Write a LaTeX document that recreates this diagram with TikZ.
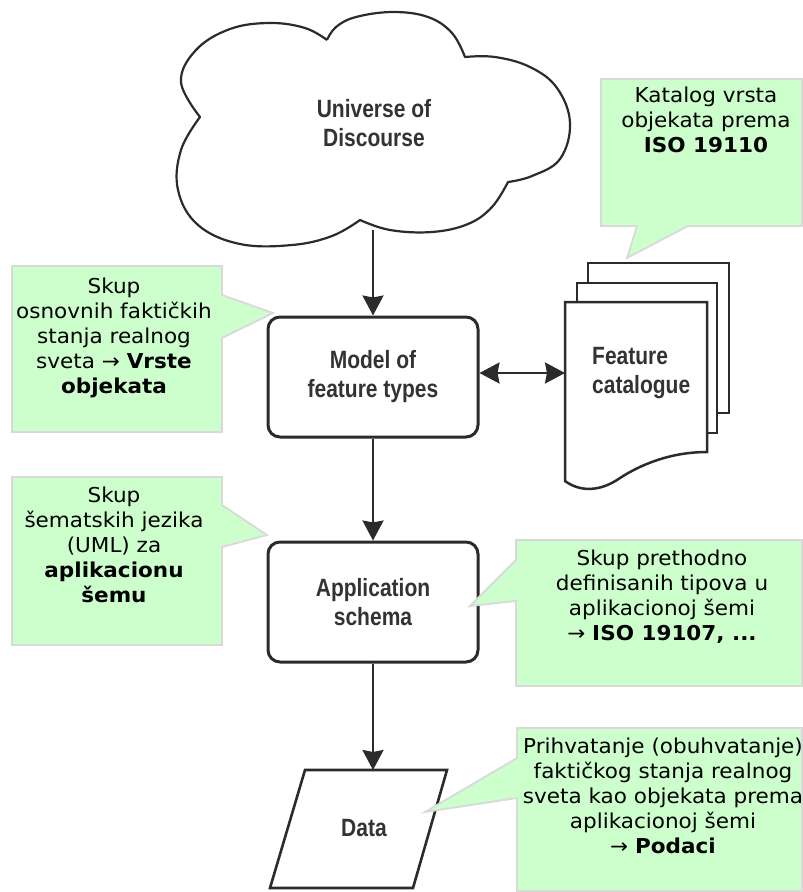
\documentclass[tikz,border=0pt]{standalone}
\usepackage{fontspec}
\setmainfont{DejaVu Sans}
\newfontfamily\notefont[FakeStretch=1.05]{DejaVu Sans}
\newfontfamily\chartfont[FakeStretch=0.84,BoldFont={Liberation Sans Bold}]{Liberation Sans}
\usetikzlibrary{arrows.meta}
\definecolor{notegreen}{HTML}{CCFFCC}
\definecolor{noteborder}{HTML}{D9D9D9}
\definecolor{ink}{HTML}{2B2B2B}
\definecolor{textink}{HTML}{333333}
\tikzset{
  conn/.style={line width=2.4pt, draw=ink},
  arr/.style={conn, -{Stealth[length=20pt,width=21pt,inset=2pt]}},
  darr/.style={conn, {Stealth[length=20pt,width=21pt,inset=2pt]}-{Stealth[length=20pt,width=21pt,inset=2pt]}},
  charttext/.style={font=\chartfont\bfseries\fontsize{25}{29}\selectfont, text=textink, align=center, inner sep=0pt},
  procbox/.style={charttext, draw=ink, line width=3pt, rounded corners=12pt, fill=white,
                  minimum width=210pt, minimum height=120pt},
  cloudline/.style={draw=ink, line width=2.2pt, line join=round},
  page/.style={draw=ink, line width=2.5pt, fill=white},
  note/.style={fill=notegreen, draw=noteborder, line width=1.8pt},
  notetext/.style={font=\notefont\fontsize{20.5}{25}\selectfont, align=center, inner sep=0pt, anchor=north, text=black},
}
\begin{document}
\begin{tikzpicture}[x=1pt,y=-1pt]
\useasboundingbox (0,0) rectangle (803,892);

% cloud
\draw[cloudline]
  plot[smooth,tension=0.65] coordinates {(327,40) (305,28) (270,23) (230,29) (196,50) (181,82) (200,117)}
  -- plot[smooth,tension=0.65] coordinates {(200,117) (181,150) (178,190) (198,225) (240,244) (292,245) (332,236) (360,220)}
  -- plot[smooth,tension=0.65] coordinates {(360,220) (390,230) (432,232) (468,224) (492,207) (508,182)}
  -- plot[smooth,tension=0.65] coordinates {(508,182) (532,176) (560,159) (570,123) (557,88) (530,67) (495,57) (465,57)}
  -- plot[smooth,tension=0.65] coordinates {(465,57) (452,33) (428,17) (393,12) (356,17) (336,27) (327,40)};
\node[charttext] (uod) at (374,123.5) {Universe of\\Discourse};
\coordinate (cloudbot) at (374,230);

% flow boxes
\node[procbox] (model) at (373,377) {Model of\\feature types};
\node[procbox] (app) at (373,602) {Application\\schema};
\draw[page, line width=2.6pt] (305,770) -- (447,770) -- (413,888) -- (270,888) -- cycle;
\node[charttext] (data) at (364,828) {Data};
\coordinate (datatop) at (375,770);

% feature catalogue
\draw[page] (588,263) rectangle (729,413);
\draw[page] (577,283) rectangle (717,433);
\draw[page] (565,302) -- (707,302) -- (707,452)
  .. controls (670,452) and (640,465) .. (620,478)
  .. controls (600,492) and (580,492) .. (565,481) -- cycle;
\node[charttext, anchor=north west, align=left] (fc) at (592,347) {Feature\\catalogue};
\coordinate (fcleft) at (565,373);

% connectors
\draw[arr] (model.north |- cloudbot) -- (model.north);
\draw[arr] (model.south) -- (app.north);
\draw[arr] (app.south) -- (app.south |- datatop);
\draw[darr] (model.east |- fcleft) -- (fcleft);

% callouts
\draw[note] (601,79) -- (802,79) -- (802,226) -- (688,226) -- (627,258) -- (637,226) -- (601,226) -- cycle;
\node[notetext] (n1) at (706,86.5) {Katalog vrsta\\objekata prema\\\textbf{ISO 19110}};

\draw[note] (12,266) -- (222,266) -- (222,295) -- (273,313) -- (222,338) -- (222,432) -- (12,432) -- cycle;
\node[notetext] (n2) at (114,277.5) {Skup\\osnovnih faktičkih\\stanja realnog\\sveta → \textbf{Vrste}\\\textbf{objekata}};

\draw[note] (12,477) -- (222,477) -- (222,505) -- (267,535) -- (222,547) -- (222,645) -- (12,645) -- cycle;
\node[notetext] (n3) at (114,486.5) {Skup\\šematskih jezika\\(UML) za\\\textbf{aplikacionu}\\\textbf{šemu}};

\draw[note] (516,540) -- (802,540) -- (802,686) -- (516,686) -- (516,601) -- (470,606) -- (516,560) -- cycle;
\node[notetext] (n4) at (662,549.5) {Skup prethodno\\definisanih tipova u\\aplikacionoj šemi\\→ \textbf{ISO 19107, ...}};

\draw[note] (517,728) -- (802,728) -- (802,891) -- (517,891) -- (517,798) -- (425,812) -- (517,758) -- cycle;
\node[notetext] (n5) at (663,737.5) {Prihvatanje (obuhvatanje)\\faktičkog stanja realnog\\sveta kao objekata prema\\aplikacionoj šemi\\→ \textbf{Podaci}};
\end{tikzpicture}
\end{document}
